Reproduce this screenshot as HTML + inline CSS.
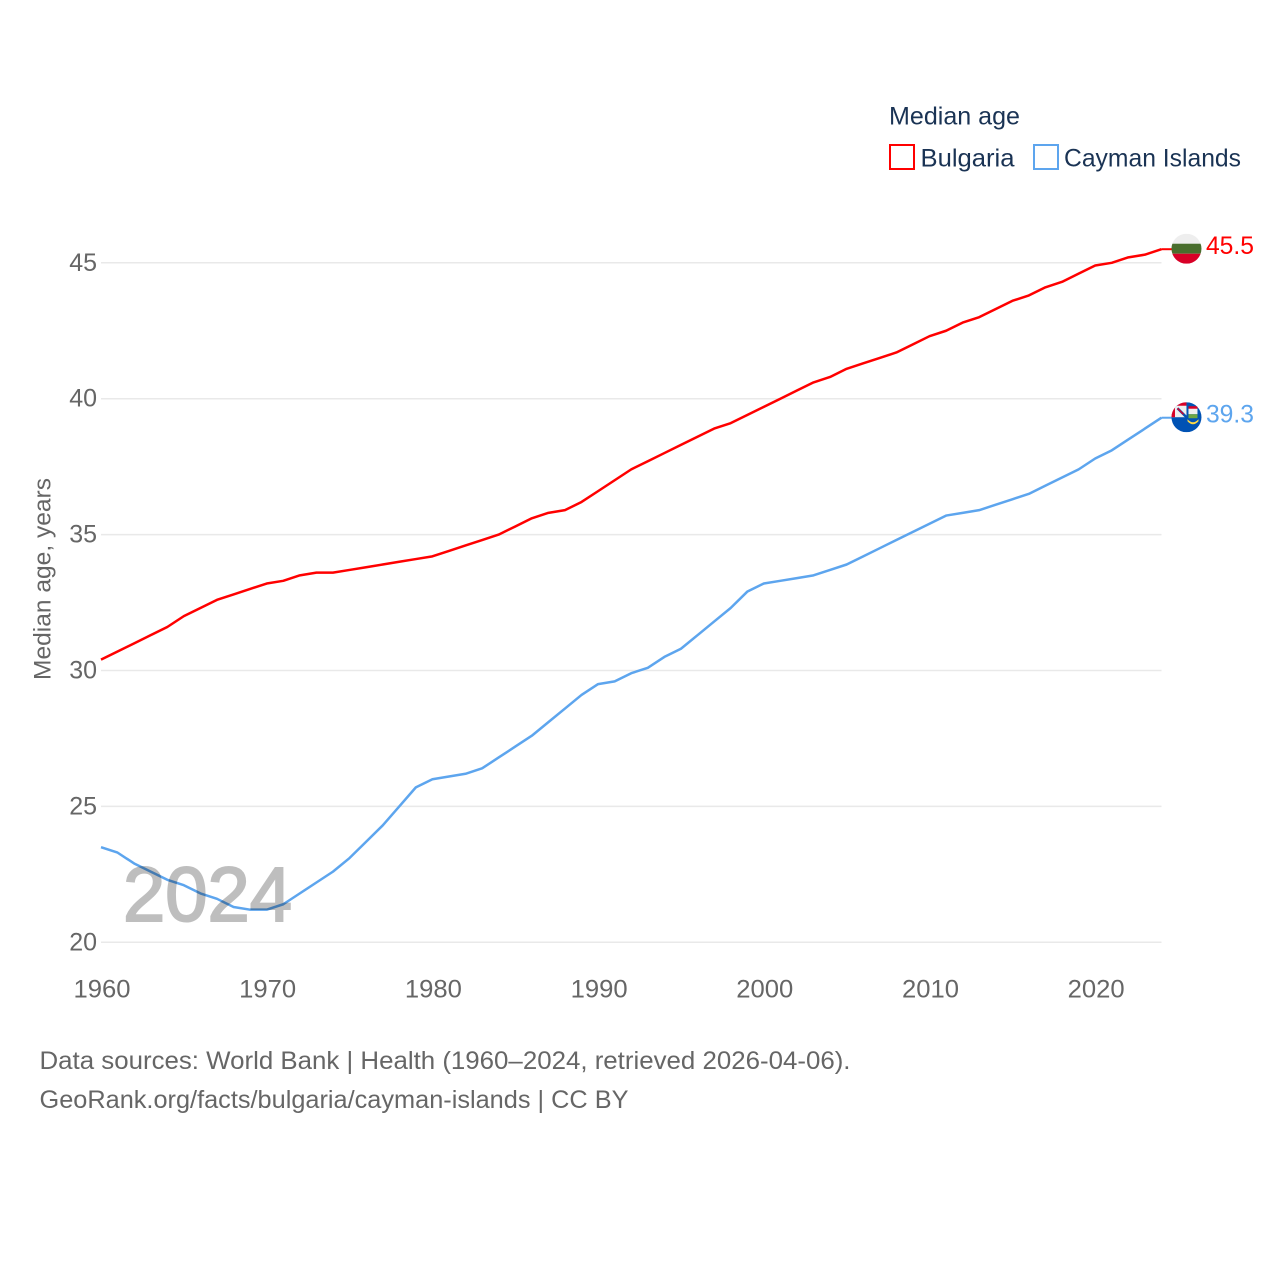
<!DOCTYPE html>
<html lang="en">
<head>
<meta charset="utf-8">
<title>Median age: Bulgaria and Cayman Islands</title>
<style>
html,body{margin:0;padding:0;background:#fff;width:1280px;height:1280px;overflow:hidden}
svg{display:block}
text{font-family:"Liberation Sans",sans-serif}
</style>
</head>
<body>
<svg id="chart" width="1280" height="1280" viewBox="0 0 1280 1280" xmlns="http://www.w3.org/2000/svg">
  <defs>
    <clipPath id="clip-bg"><circle id="clip-bg-circle" r="15"></circle></clipPath>
    <clipPath id="clip-ky"><circle id="clip-ky-circle" r="15"></circle></clipPath>
  </defs>
  <g id="grid"></g>
  <g id="yticks"></g>
  <g id="xticks"></g>
  <text transform="translate(50.5,680) rotate(-90)" font-size="24" fill="#666" textLength="202" lengthAdjust="spacingAndGlyphs">Median age, years</text>
  <g id="series"></g>
  <text id="year-label" x="123" y="921" font-size="77" fill="#000" stroke="#000" stroke-width="2" opacity="0.25" textLength="169" lengthAdjust="spacingAndGlyphs">2024</text>
  <g id="flags"></g>
  <g>
    <text x="889" y="124.5" font-size="25" fill="#1a3354" textLength="131" lengthAdjust="spacingAndGlyphs">Median age</text>
    <g>
      <rect x="890" y="145" width="24" height="24" fill="#fff" stroke="#ff0000" stroke-width="2"></rect>
      <text x="920.5" y="166.5" font-size="25" fill="#1a3354" textLength="94" lengthAdjust="spacingAndGlyphs">Bulgaria</text>
    </g>
    <g>
      <rect x="1034" y="145" width="24" height="24" fill="#fff" stroke="#5da5ee" stroke-width="2"></rect>
      <text x="1064" y="166.5" font-size="25" fill="#1a3354" textLength="177" lengthAdjust="spacingAndGlyphs">Cayman Islands</text>
    </g>
  </g>
  <g>
    <text x="39.5" y="1069" font-size="25" fill="#666" textLength="811" lengthAdjust="spacingAndGlyphs">Data sources: World Bank | Health (1960–2024, retrieved 2026-04-06).</text>
    <text x="39.5" y="1108" font-size="25" fill="#666" textLength="589" lengthAdjust="spacingAndGlyphs">GeoRank.org/facts/bulgaria/cayman-islands | CC BY</text>
  </g>
</svg>
<script>
const startYear = 1960;
const xTickLabels = [1960, 1970, 1980, 1990, 2000, 2010, 2020];
const yTickLabels = [20, 25, 30, 35, 40, 45];
const bulgariaValues = [30.4,30.7,31.0,31.3,31.6,32.0,32.3,32.6,32.8,33.0,33.2,33.3,33.5,33.6,33.6,33.7,33.8,33.9,34.0,34.1,34.2,34.4,34.6,34.8,35.0,35.3,35.6,35.8,35.9,36.2,36.6,37.0,37.4,37.7,38.0,38.3,38.6,38.9,39.1,39.4,39.7,40.0,40.3,40.6,40.8,41.1,41.3,41.5,41.7,42.0,42.3,42.5,42.8,43.0,43.3,43.6,43.8,44.1,44.3,44.6,44.9,45.0,45.2,45.3,45.5];
const caymanValues = [23.5,23.3,22.9,22.6,22.3,22.1,21.8,21.6,21.3,21.2,21.2,21.4,21.8,22.2,22.6,23.1,23.7,24.3,25.0,25.7,26.0,26.1,26.2,26.4,26.8,27.2,27.6,28.1,28.6,29.1,29.5,29.6,29.9,30.1,30.5,30.8,31.3,31.8,32.3,32.9,33.2,33.3,33.4,33.5,33.7,33.9,34.2,34.5,34.8,35.1,35.4,35.7,35.8,35.9,36.1,36.3,36.5,36.8,37.1,37.4,37.8,38.1,38.5,38.9,39.3];

const NS = 'http://www.w3.org/2000/svg';
function xScale(year){ return 101 + (year - 1960) * 16.57; }
function yScale(v){ return 942.3 - (v - 20) * 27.18; }
function make(tag, attrs, parent, txt){
  const el = document.createElementNS(NS, tag);
  for (const k in attrs) el.setAttribute(k, attrs[k]);
  if (txt !== undefined) el.textContent = txt;
  parent.appendChild(el);
  return el;
}
const gridG = document.getElementById('grid');
const yG = document.getElementById('yticks');
const xG = document.getElementById('xticks');
const seriesG = document.getElementById('series');
const flagsG = document.getElementById('flags');

yTickLabels.forEach(function(t){
  const line = make('line', {x1:xScale(1960), x2:xScale(2024), y1:yScale(t), y2:yScale(t), stroke:'#e9e9e9', 'stroke-width':1.5}, gridG);
  
  
  const label = make('text', {x:97, y:yScale(t)+8, 'text-anchor':'end', 'font-size':25, fill:'#666'}, yG, String(t));
  
  
});
xTickLabels.forEach(function(t){
  const label = make('text', {x:xScale(t)+1, y:997.5, 'text-anchor':'middle', 'font-size':25, fill:'#666', textLength:57, lengthAdjust:'spacingAndGlyphs'}, xG, String(t));
  
  
});

function drawSeries(values, color, slug){
  const pts = values.map(function(v, i){ return xScale(startYear + i).toFixed(2) + ',' + yScale(v).toFixed(2); });
  const lastY = yScale(values[values.length - 1]);
  const lastX = xScale(startYear + values.length - 1);
  const line = make('polyline', {points:pts.join(' '), fill:'none', stroke:color, 'stroke-width':2.5, 'stroke-linejoin':'round'}, seriesG);
  
  
  const tail = make('line', {x1:lastX, x2:lastX + 12, y1:lastY, y2:lastY, stroke:color, 'stroke-width':2}, seriesG);
  
  
  const label = make('text', {x:lastX + 44.5, y:lastY + 5, 'font-size':25, fill:color, textLength:48, lengthAdjust:'spacingAndGlyphs'}, flagsG, values[values.length - 1].toFixed(1));
  
  
}
drawSeries(bulgariaValues, '#ff0000', 'bulgaria');
drawSeries(caymanValues, '#5da5ee', 'cayman-islands');

const flagX = xScale(2024) + 25;
const bgY = yScale(bulgariaValues[bulgariaValues.length - 1]) - 0.5;
const kyY = yScale(caymanValues[caymanValues.length - 1]) - 0.5;
document.getElementById('clip-bg-circle').setAttribute('cx', flagX);
document.getElementById('clip-bg-circle').setAttribute('cy', bgY);
document.getElementById('clip-ky-circle').setAttribute('cx', flagX);
document.getElementById('clip-ky-circle').setAttribute('cy', kyY);

const bgFlag = make('g', {'clip-path':'url(#clip-bg)'}, flagsG);


make('rect', {x:flagX-15, y:bgY-15, width:30, height:10, fill:'#eeeeee'}, bgFlag);
make('rect', {x:flagX-15, y:bgY-5, width:30, height:10, fill:'#496e2d'}, bgFlag);
make('rect', {x:flagX-15, y:bgY+5, width:30, height:10, fill:'#d80027'}, bgFlag);

const kyFlag = make('g', {'clip-path':'url(#clip-ky)'}, flagsG);


make('rect', {x:flagX-15, y:kyY-15, width:30, height:30, fill:'#0052b4'}, kyFlag);
make('rect', {x:flagX-15, y:kyY-15, width:15, height:15, fill:'#eeeeee'}, kyFlag);
make('rect', {x:flagX-15, y:kyY-15, width:15, height:3.5, fill:'#d80027'}, kyFlag);
make('rect', {x:flagX-15, y:kyY-15, width:3.5, height:15, fill:'#d80027'}, kyFlag);
make('line', {x1:flagX-9, y1:kyY-9, x2:flagX, y2:kyY, stroke:'#0052b4', 'stroke-width':2.5}, kyFlag);
make('line', {x1:flagX-9, y1:kyY-9, x2:flagX-3, y2:kyY-3, stroke:'#d80027', 'stroke-width':1.5}, kyFlag);
make('rect', {x:flagX+2, y:kyY-9, width:9, height:6, fill:'#eeeeee'}, kyFlag);
make('rect', {x:flagX+2, y:kyY-3, width:9, height:4, fill:'#6da544'}, kyFlag);
make('rect', {x:flagX+2, y:kyY-11, width:9, height:2.5, fill:'#d80027'}, kyFlag);
make('path', {d:'M'+(flagX+1)+' '+(kyY+2)+' q5.5 6 11 0 v2 q-5.5 6 -11 0z', fill:'#ffda44'}, kyFlag);
</script>
</body>
</html>
